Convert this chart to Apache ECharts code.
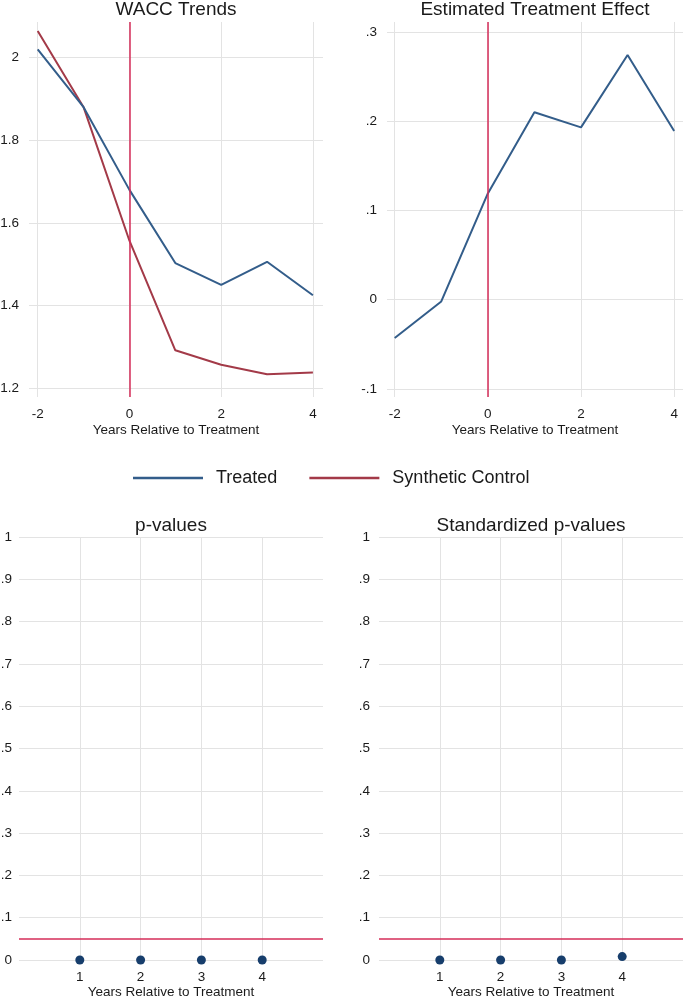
<!DOCTYPE html>
<html>
<head>
<meta charset="utf-8">
<script src="https://cdn.jsdelivr.net/npm/echarts@6/dist/echarts.min.js"></script>
<style>
html,body{margin:0;padding:0;background:#fff;}
#chart{width:685px;height:997px;}
</style>
</head>
<body>
<div id="chart"></div>
<script>
// ---- data ----
const yearsTop = [-2, -1, 0, 1, 2, 3, 4];
const treated = [2.02, 1.88, 1.68, 1.503, 1.45, 1.506, 1.425];
const synthetic = [2.064, 1.88, 1.557, 1.292, 1.257, 1.234, 1.238];
const effect = [-0.043, -0.002, 0.119, 0.210, 0.193, 0.274, 0.189];
const yearsPost = [1, 2, 3, 4];
const pValues = [0, 0, 0, 0];
const stdPValues = [0, 0, 0, 0.008];

const xTicksTop = [-2, 0, 2, 4];
const waccTicks = [1.2, 1.4, 1.6, 1.8, 2];
const effectTicks = [-0.1, 0, 0.1, 0.2, 0.3];
const pTicks = [0, 0.1, 0.2, 0.3, 0.4, 0.5, 0.6, 0.7, 0.8, 0.9, 1];
const xTicksBottom = [1, 2, 3, 4];

const titles = ['WACC Trends', 'Estimated Treatment Effect', 'p-values', 'Standardized p-values'];
const xName = 'Years Relative to Treatment';
const legendNames = ['Treated', 'Synthetic Control'];

// ---- style ----
const FONT = "'Liberation Sans', Arial, Helvetica, sans-serif";
const BLUE = '#335d8a';
const RED = '#a33a48';
const CRIMSON = '#d42c58';
const DOT = '#173e6c';
const GRID = '#e3e3e3';
const TXT = '#1a1a1a';
const FS = 13.5;

function fmt(v) {
  const s = String(+(+v).toFixed(3));
  return s.replace(/^(-?)0\./, '$1.');
}
function pairs(xs, ys) { return xs.map((x, i) => [x, ys[i]]); }

function xAxis(gi, min, max, ticks, gap) {
  return {
    type: 'value', gridIndex: gi, min: min, max: max,
    name: xName, nameLocation: 'middle', nameGap: gap,
    nameTextStyle: { fontFamily: FONT, fontSize: FS, color: TXT },
    axisLine: { show: false },
    axisTick: { show: false, customValues: ticks },
    axisLabel: { customValues: ticks, formatter: fmt, margin: 10, fontFamily: FONT, fontSize: FS, color: TXT },
    splitLine: { show: true, lineStyle: { color: GRID, width: 1 } }
  };
}
function yAxis(gi, min, max, ticks, margin) {
  return {
    type: 'value', gridIndex: gi, min: min, max: max,
    axisLine: { show: false },
    axisTick: { show: false, customValues: ticks },
    axisLabel: { customValues: ticks, formatter: fmt, margin: margin, fontFamily: FONT, fontSize: FS, color: TXT },
    splitLine: { show: true, lineStyle: { color: GRID, width: 1 } }
  };
}
const vLine = {
  symbol: 'none', silent: true, animation: false, label: { show: false },
  lineStyle: { color: CRIMSON, width: 1.5, type: 'solid' },
  data: [{ xAxis: 0 }]
};
const hLine = {
  symbol: 'none', silent: true, animation: false, label: { show: false },
  lineStyle: { color: CRIMSON, width: 1.5, type: 'solid' },
  data: [{ yAxis: 0.05 }]
};

const chart = echarts.init(document.getElementById('chart'), null, { renderer: 'canvas' });
const titleCenters = [[176, 10], [535, 10], [171, 526], [531, 526]];
const gridBase = { outerBoundsMode: 'none', containLabel: false };
chart.setOption({
  animation: false,
  backgroundColor: '#fff',
  graphic: titles.map((t, i) => ({
    type: 'text', x: titleCenters[i][0], y: titleCenters[i][1],
    style: { text: t, align: 'center', verticalAlign: 'middle', font: '19px ' + FONT, fill: TXT }
  })),
  legend: {
    left: 133, top: 469, padding: 0, itemWidth: 70, itemHeight: 2.5, itemGap: 32,
    data: [
      { name: legendNames[0], icon: 'rect', itemStyle: { color: BLUE } },
      { name: legendNames[1], icon: 'rect', itemStyle: { color: RED } }
    ],
    textStyle: { fontFamily: FONT, fontSize: 18, color: TXT, padding: [0, 0, 0, 8] }
  },
  grid: [
    Object.assign({ left: 29, top: 22, width: 294, height: 375 }, gridBase),
    Object.assign({ left: 387, top: 22, width: 296, height: 375 }, gridBase),
    Object.assign({ left: 19, top: 537, width: 304, height: 423 }, gridBase),
    Object.assign({ left: 379, top: 537, width: 304, height: 423 }, gridBase)
  ],
  xAxis: [
    xAxis(0, -2.19, 4.22, xTicksTop, 26),
    xAxis(1, -2.165, 4.19, xTicksTop, 26),
    xAxis(2, 0, 5, xTicksBottom, 25),
    xAxis(3, 0, 5, xTicksBottom, 25)
  ],
  yAxis: [
    yAxis(0, 1.179, 2.086, waccTicks, 10),
    yAxis(1, -0.109, 0.311, effectTicks, 10),
    yAxis(2, 0, 1, pTicks, 7),
    yAxis(3, 0, 1, pTicks, 9)
  ],
  series: [
    { name: legendNames[0], type: 'line', xAxisIndex: 0, yAxisIndex: 0, data: pairs(yearsTop, treated),
      symbol: 'none', lineStyle: { color: BLUE, width: 2 }, itemStyle: { color: BLUE }, z: 3,
      markLine: vLine },
    { name: legendNames[1], type: 'line', xAxisIndex: 0, yAxisIndex: 0, data: pairs(yearsTop, synthetic),
      symbol: 'none', lineStyle: { color: RED, width: 2 }, itemStyle: { color: RED }, z: 2 },
    { name: 'effect', type: 'line', xAxisIndex: 1, yAxisIndex: 1, data: pairs(yearsTop, effect),
      symbol: 'none', lineStyle: { color: BLUE, width: 2 }, itemStyle: { color: BLUE }, z: 3,
      markLine: vLine },
    { name: 'p', type: 'scatter', xAxisIndex: 2, yAxisIndex: 2, data: pairs(yearsPost, pValues),
      symbol: 'circle', symbolSize: 9, clip: false, itemStyle: { color: DOT, opacity: 1 }, z: 4,
      markLine: hLine },
    { name: 'sp', type: 'scatter', xAxisIndex: 3, yAxisIndex: 3, data: pairs(yearsPost, stdPValues),
      symbol: 'circle', symbolSize: 9, clip: false, itemStyle: { color: DOT, opacity: 1 }, z: 4,
      markLine: hLine }
  ]
});
</script>
</body>
</html>
